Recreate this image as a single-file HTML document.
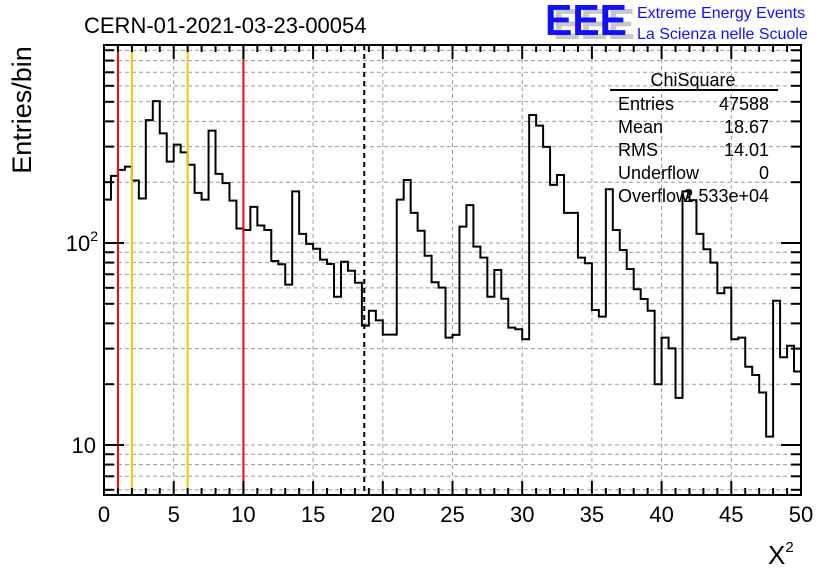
<!DOCTYPE html>
<html><head><meta charset="utf-8"><style>
html,body{margin:0;padding:0;background:#fff;width:836px;height:572px;overflow:hidden}
text{font-family:"Liberation Sans",sans-serif}
</style></head><body>
<svg id="chart" width="836" height="572" xmlns="http://www.w3.org/2000/svg">
<g id="grid"></g>
<g id="marks"></g>
<g id="axes"></g>
<text x="84" y="33" font-size="22">CERN-01-2021-03-23-00054</text>
<g>
<text x="553" y="39" font-size="44" font-weight="bold" fill="#c8c8c8" textLength="82" lengthAdjust="spacingAndGlyphs">EEE</text>
<text x="545" y="35" font-size="44" font-weight="bold" fill="#1010ff" textLength="82" lengthAdjust="spacingAndGlyphs">EEE</text>
<text x="637" y="18" font-size="16" fill="#1010ff">Extreme Energy Events</text>
<text x="637" y="39" font-size="16" fill="#1010ff">La Scienza nelle Scuole</text>
</g>
<g font-size="18">
<text x="693" y="86" text-anchor="middle">ChiSquare</text>
<line x1="610" y1="90" x2="778" y2="90" stroke="#000" stroke-width="2"/>
<text x="618" y="110">Entries</text><text x="769" y="110" text-anchor="end">47588</text>
<text x="618" y="133">Mean</text><text x="769" y="133" text-anchor="end">18.67</text>
<text x="618" y="156">RMS</text><text x="769" y="156" text-anchor="end">14.01</text>
<text x="618" y="179">Underflow</text><text x="769" y="179" text-anchor="end">0</text>
<text x="618" y="202">Overflow</text><text x="769" y="202" text-anchor="end">2.533e+04</text>
</g>
<text transform="translate(31,110) rotate(-90)" text-anchor="middle" font-size="27">Entries/bin</text>
<text x="768" y="564" font-size="26" font-family="Liberation Serif,serif">X<tspan font-size="15" dy="-12">2</tspan></text>
</svg>
<script>
const binValues=[164,215,230,239,204,166,406,504,349,253,307,281,244,177,164,360,220,198,162,118,116,151,122,116,81.5,78.5,62.2,180,111,99,93.7,82.7,78.7,54.2,80.8,72.9,63.6,39,46.2,41.4,35.2,35.2,164,205,141,115,86.5,63.9,60.1,34,35.1,120.5,154,95.9,84.6,54.2,73.5,53,38.1,37.4,33.4,430,381,299,194,217,141,141,84.6,79.4,46.6,43.2,184.5,116,92.3,74.3,59,52.8,46.2,20,34,30.1,17.1,180,163,111,93.1,79.9,56.4,60.1,33.4,34,24.4,22.2,18.2,11,51.8,27.2,31,23.1];
const xMin=0, xMax=50;
const xTickLabels=[0,5,10,15,20,25,30,35,40,45,50];
const yTickLabels=[10,100];
const redLines=[1,10];
const orangeLines=[2,6];
const meanLine=[18.67];
const L=104,R=801,T=45,B=495;
const NS='http://www.w3.org/2000/svg';
const X=v=>L+(v-xMin)/(xMax-xMin)*(R-L);
const Y=v=>445-(Math.log10(v)-1)*202;
function mk(tag,attrs,parent){const e=document.createElementNS(NS,tag);for(const k in attrs)e.setAttribute(k,attrs[k]);parent.appendChild(e);return e;}
const grid=document.getElementById('grid'),marks=document.getElementById('marks'),axes=document.getElementById('axes');
for(const t of xTickLabels){if(t===xMin||t===xMax)continue;
 const g=mk('line',{x1:X(t),x2:X(t),y1:T,y2:B,stroke:'#999','stroke-dasharray':'4,3','stroke-width':1},grid);
 
 }
const yMinors=[];
for(let d=1;d<=100;d*=10)for(let m=1;m<10;m++){const v=m*d;if(v>=5.7&&v<=950)yMinors.push(v);}
for(const v of yMinors){
 const g=mk('line',{x1:L,x2:R,y1:Y(v),y2:Y(v),stroke:'#999','stroke-dasharray':'4,3','stroke-width':1},grid);
 
 }
const bw=(xMax-xMin)/binValues.length;
let d='M'+X(xMin)+' '+B;
binValues.forEach((v,i)=>{const y=Y(v);d+=' L'+X(xMin+i*bw)+' '+y+' L'+X(xMin+(i+1)*bw)+' '+y;});
d+=' L'+X(xMax)+' '+B;
const h=mk('path',{d:d,fill:'none',stroke:'#000','stroke-width':2},marks);


for(const v of redLines){const l=mk('line',{x1:X(v),x2:X(v),y1:T,y2:B,stroke:'#f00','stroke-width':2},marks);
 
 }
for(const v of orangeLines){const l=mk('line',{x1:X(v),x2:X(v),y1:T,y2:B,stroke:'#ffc000','stroke-width':2},marks);
 
 }
for(const v of meanLine){const l=mk('line',{x1:X(v),x2:X(v),y1:T,y2:B,stroke:'#000','stroke-width':2,'stroke-dasharray':'5,4'},marks);
 
 }
const f=mk('rect',{x:L,y:T,width:R-L,height:B-T,fill:'none',stroke:'#000','stroke-width':2},axes);


for(let v=xMin;v<=xMax;v+=0.5){const major=v%5===0, mid=v%1===0;const len=major?14:(mid?7:0);if(!len)continue;
 mk('line',{x1:X(v),x2:X(v),y1:B,y2:B-len,stroke:'#000','stroke-width':2},axes);
 mk('line',{x1:X(v),x2:X(v),y1:T,y2:T+len,stroke:'#000','stroke-width':2},axes);}
for(const t of xTickLabels){const tx=mk('text',{x:X(t),y:522,'text-anchor':'middle','font-size':22},axes);tx.textContent=t;
 
 }
for(const v of yMinors){const major=yTickLabels.includes(v);const len=major?20:10;
 mk('line',{x1:L,x2:L+len,y1:Y(v),y2:Y(v),stroke:'#000','stroke-width':2},axes);
 mk('line',{x1:R,x2:R-len,y1:Y(v),y2:Y(v),stroke:'#000','stroke-width':2},axes);}
for(const t of yTickLabels){const tx=mk('text',{x:96,y:Y(t)+8,'text-anchor':'end','font-size':22},axes);
 if(t===10)tx.textContent='10';else{tx.textContent='10';const s=document.createElementNS(NS,'tspan');s.setAttribute('font-size','14');s.setAttribute('dy','-10');s.textContent=String(Math.round(Math.log10(t)));tx.appendChild(s);tx.setAttribute('x',98);}
 
 }
</script>
</body></html>
